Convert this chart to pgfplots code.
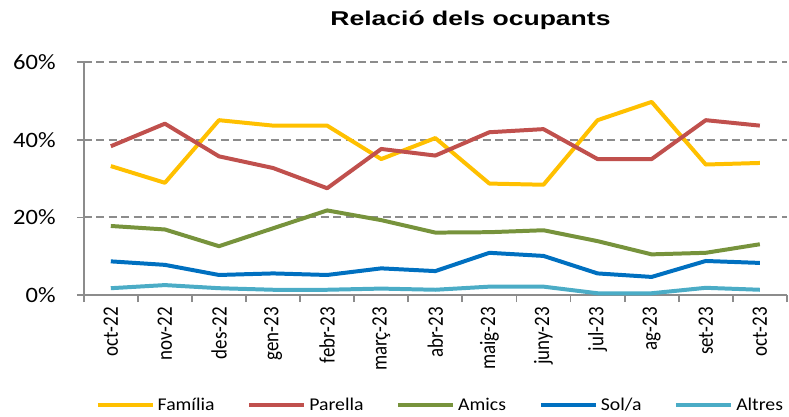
\documentclass[border=0pt]{standalone}
\usepackage{fontspec}
\setmainfont{Carlito}
\newfontfamily\titlefont{Liberation Sans}
\usepackage{pgfplots}
\pgfplotsset{compat=1.18}

\definecolor{cFam}{HTML}{FFC000}
\definecolor{cPar}{HTML}{C0504D}
\definecolor{cAmi}{HTML}{77933C}
\definecolor{cSol}{HTML}{0070C0}
\definecolor{cAlt}{HTML}{4BACC6}
\definecolor{cGrid}{HTML}{8C8C8C}

\newcommand{\xlab}[1]{\scalebox{1}[1.16]{#1}}
\newcommand{\ylab}[1]{\scalebox{1.12}[1]{#1}}
\newcommand{\leglab}[1]{\scalebox{1.1}[1]{#1}}

\begin{document}
\begin{tikzpicture}
\begin{axis}[
    name=ax,
    scale only axis,
    width=705pt, height=234pt,
    xmin=-0.5, xmax=12.5,
    ymin=0, ymax=60,
    axis x line*=bottom,
    axis y line*=left,
    axis line style={-, draw=cGrid, line width=1.8pt},
    every outer x axis line/.append style={-},
    every outer y axis line/.append style={-},
    every inner x axis line/.append style={-},
    every inner y axis line/.append style={-},
    tick align=outside,
    major tick length=7pt,
    tick style={draw=cGrid, line width=1.8pt},
    xtick={-0.5,0.5,...,12.5},
    xticklabels={{},{},{},{},{},{},{},{},{},{},{},{},{},{}},
    extra x ticks={0,1,2,3,4,5,6,7,8,9,10,11,12},
    extra x tick labels={\xlab{oct-22},\xlab{nov-22},\xlab{des-22},\xlab{gen-23},\xlab{febr-23},\xlab{març-23},\xlab{abr-23},\xlab{maig-23},\xlab{juny-23},\xlab{jul-23},\xlab{ag-23},\xlab{set-23},\xlab{oct-23}},
    extra x tick style={major tick length=0pt},
    xticklabel style={yshift=-12pt, rotate=90, anchor=east, inner sep=0pt, font=\fontsize{19}{19}\selectfont},
    ytick={0,20,40,60},
    yticklabels={\ylab{0\%},\ylab{20\%},\ylab{40\%},\ylab{60\%}},
    yticklabel style={anchor=east, inner sep=0pt, xshift=-21pt, font=\fontsize{22}{22}\selectfont},
    ymajorgrids,
    major grid style={draw=cGrid, line width=2pt, dash pattern=on 8pt off 4.5pt},
    title={\scalebox{1.33}[1]{\titlefont\bfseries\fontsize{20}{20}\selectfont Relació dels ocupants}},
    title style={at={(0.55,1.128)}, anchor=base, inner sep=0pt},
    legend columns=-1,
    legend image code/.code={\draw[#1, line width=4pt] (0pt,0pt) -- (55pt,0pt);},
    legend style={draw=none, fill=none, at={(0.508,-0.470)}, anchor=center,
        font=\fontsize{18}{18}\selectfont,
        nodes={inner sep=3pt},
        /tikz/every even column/.append style={column sep=30pt}},
    every axis plot/.append style={line width=4pt, no markers, line join=round},
]
\addplot[cFam] coordinates {(0,33.2) (1,28.9) (2,45.0) (3,43.6) (4,43.6) (5,35.0) (6,40.4) (7,28.7) (8,28.4) (9,45.0) (10,49.7) (11,33.6) (12,34.0)};
\addplot[cPar] coordinates {(0,38.3) (1,44.1) (2,35.7) (3,32.7) (4,27.5) (5,37.6) (6,35.9) (7,41.9) (8,42.7) (9,35.0) (10,35.0) (11,45.0) (12,43.6)};
\addplot[cAmi] coordinates {(0,17.8) (1,16.9) (2,12.6) (3,17.2) (4,21.8) (5,19.3) (6,16.1) (7,16.2) (8,16.7) (9,13.9) (10,10.5) (11,10.9) (12,13.1)};
\addplot[cSol] coordinates {(0,8.7) (1,7.8) (2,5.2) (3,5.6) (4,5.2) (5,6.9) (6,6.2) (7,10.9) (8,10.1) (9,5.6) (10,4.7) (11,8.8) (12,8.3)};
\addplot[cAlt] coordinates {(0,1.8) (1,2.6) (2,1.8) (3,1.4) (4,1.4) (5,1.7) (6,1.4) (7,2.2) (8,2.2) (9,0.5) (10,0.5) (11,1.9) (12,1.4)};
\legend{\leglab{Família},\leglab{Parella},\leglab{Amics},\leglab{Sol/a},\leglab{Altres}}
\end{axis}
\path[use as bounding box] ([xshift=-84pt,yshift=-120pt]ax.south west) rectangle ([xshift=705pt,yshift=296pt]ax.south west);
\end{tikzpicture}
\end{document}
